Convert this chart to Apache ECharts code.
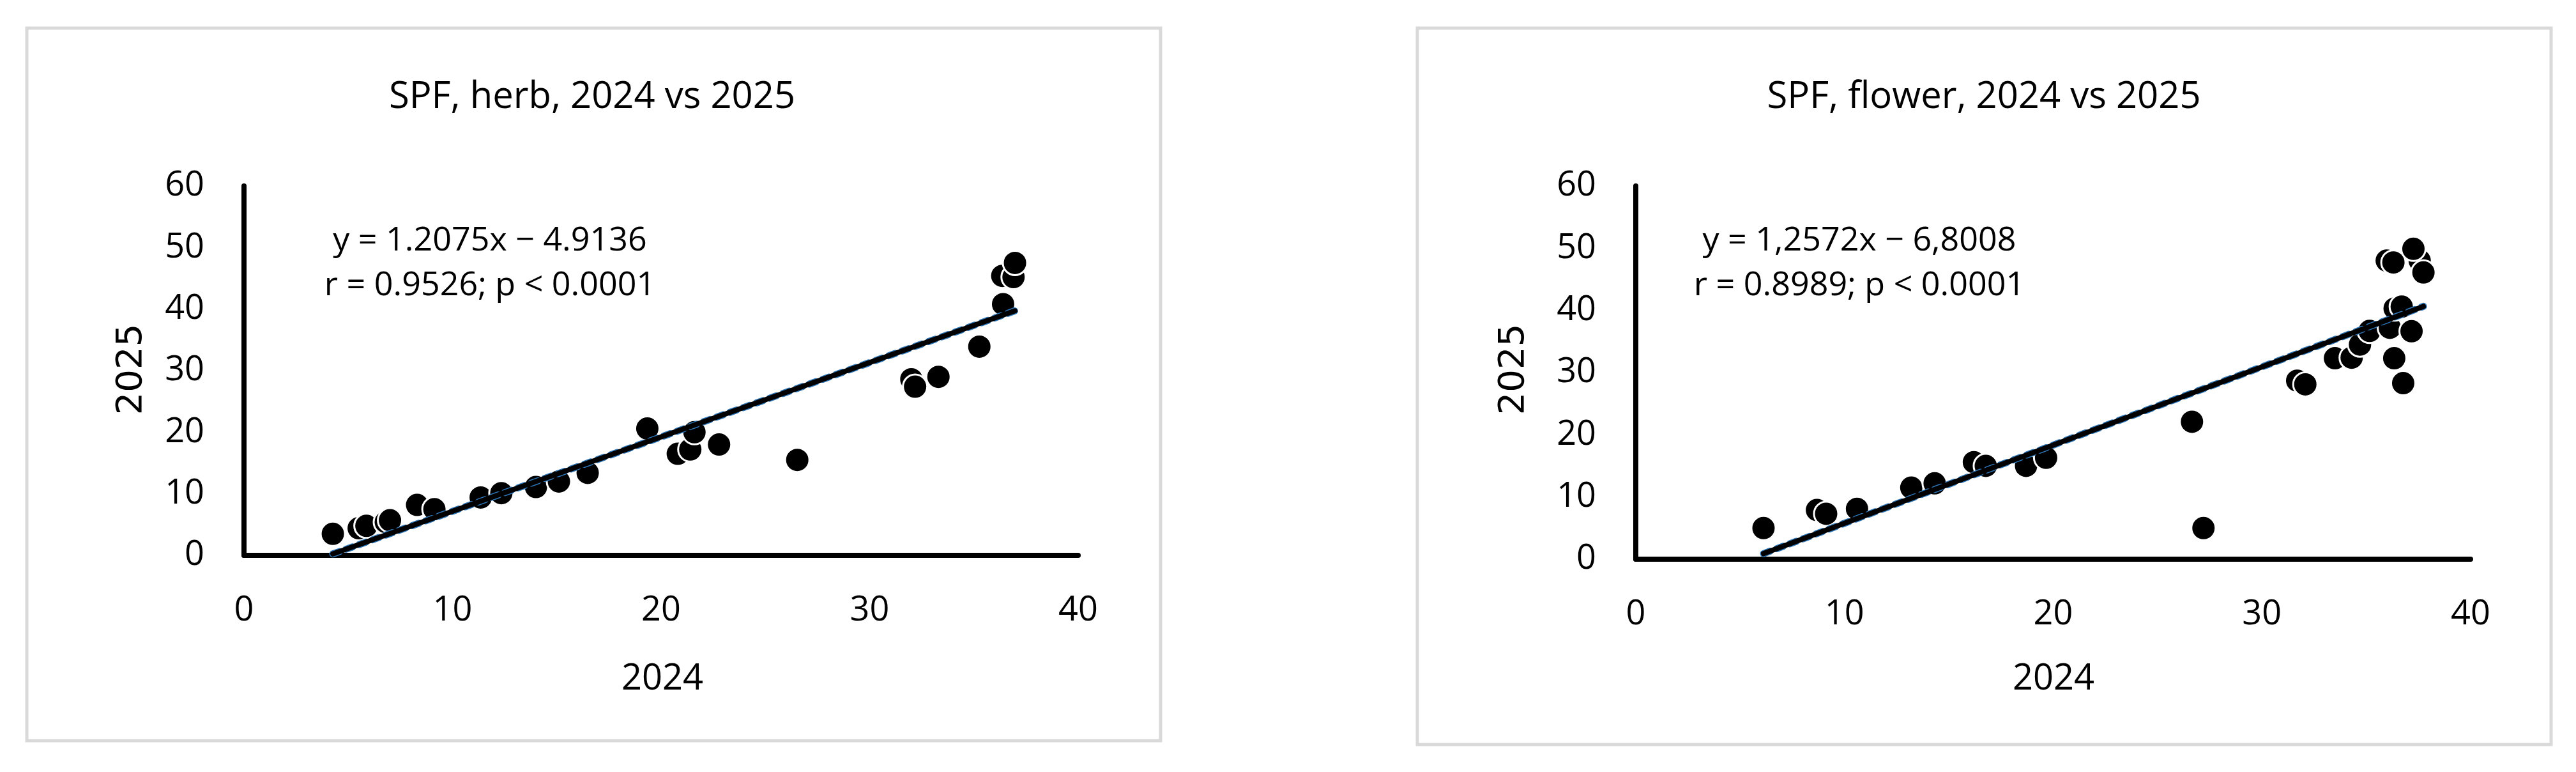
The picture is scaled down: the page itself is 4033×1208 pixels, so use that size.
<!DOCTYPE html>
<html>
<head>
<meta charset="utf-8">
<script src="https://cdn.jsdelivr.net/npm/echarts@6/dist/echarts.min.js"></script>
<style>
html,body{margin:0;padding:0;background:#fff;}
#c{width:4033px;height:1208px;}
</style>
</head>
<body>
<div id="c"></div>
<script>
// ---- Data ----
const herbTitle = 'SPF, herb, 2024 vs 2025';
const flowerTitle = 'SPF, flower, 2024 vs 2025';
const herbEq = 'y = 1.2075x \u2212 4.9136';
const herbStat = 'r = 0.9526; p < 0.0001';
const flowerEq = 'y = 1,2572x \u2212 6,8008';
const flowerStat = 'r = 0.8989; p < 0.0001';
const herbSlope = 1.2075, herbIntercept = -4.9136;
const flowerSlope = 1.2572, flowerIntercept = -6.8008;
const xTicks = [0, 10, 20, 30, 40];
const yTicks = [0, 10, 20, 30, 40, 50, 60];
const xName = '2024';
const yName = '2025';

const herb2024 = [4.26, 5.5, 5.87, 6.8, 7.0, 8.3, 9.13, 11.35, 12.34, 14.0, 15.1, 16.48, 19.34, 20.8, 21.4, 21.6, 22.78, 26.53, 32.0, 32.18, 33.3, 35.26, 36.4, 36.36, 36.9, 36.97];
const herb2025 = [3.5, 4.4, 4.8, 5.4, 5.7, 8.2, 7.5, 9.4, 10.1, 11.1, 12.0, 13.4, 20.6, 16.5, 17.2, 20.0, 18.0, 15.5, 28.6, 27.4, 29.0, 33.9, 40.8, 45.4, 45.2, 47.5];

const flower2024 = [6.12, 8.68, 9.12, 10.6, 13.2, 14.32, 16.2, 16.77, 18.7, 19.66, 26.65, 27.2, 31.69, 32.08, 33.5, 34.3, 34.7, 35.16, 36.13, 37.17, 36.36, 36.7, 36.34, 36.77, 35.98, 36.3, 37.56, 37.26, 37.74];
const flower2025 = [5.0, 7.9, 7.3, 8.1, 11.5, 12.2, 15.6, 15.0, 15.0, 16.3, 22.1, 5.0, 28.7, 28.1, 32.3, 32.4, 34.5, 36.7, 37.2, 36.65, 40.3, 40.6, 32.3, 28.3, 48.0, 47.7, 48.0, 49.9, 46.1];

// ---- Build chart ----
const FONT = "'Liberation Sans Narrow', 'Open Sans', sans-serif";
const pts = (xs, ys) => xs.map((x, i) => [x, ys[i]]);
const trend = (xs, m, b) => {
  const lo = Math.min(...xs), hi = Math.max(...xs);
  return [[lo, m * lo + b], [hi, m * hi + b]];
};

const panels = [
  {grid: {left: 382, top: 291, width: 1306, height: 578}, box: [42, 44, 1775, 1115],
   title: herbTitle, eq: herbEq, stat: herbStat, titleX: 927, eqX: 767, yNameX: 206, xNameX: 1037,
   data: pts(herb2024, herb2025), line: trend(herb2024, herbSlope, herbIntercept)},
  {grid: {left: 2561, top: 291, width: 1307, height: 584}, box: [2219, 44, 1775, 1121],
   title: flowerTitle, eq: flowerEq, stat: flowerStat, titleX: 3106, eqX: 2911, yNameX: 2370, xNameX: 3215,
   data: pts(flower2024, flower2025), line: trend(flower2024, flowerSlope, flowerIntercept)}
];

const grids = [], xAxes = [], yAxes = [], series = [], graphics = [];
panels.forEach((p, i) => {
  grids.push(p.grid);
  xAxes.push({
    gridIndex: i, type: 'value', min: xTicks[0], max: xTicks[xTicks.length - 1],
    interval: xTicks[1] - xTicks[0],
    axisLine: {show: true, onZero: false, lineStyle: {color: '#000', width: 8}},
    axisTick: {show: false}, splitLine: {show: false},
    axisLabel: {fontFamily: FONT, fontSize: 54, color: '#000', margin: 60}
  });
  yAxes.push({
    gridIndex: i, type: 'value', min: yTicks[0], max: yTicks[yTicks.length - 1],
    interval: yTicks[1] - yTicks[0],
    axisLine: {show: true, onZero: false, lineStyle: {color: '#000', width: 8}},
    axisTick: {show: false}, splitLine: {show: false},
    axisLabel: {fontFamily: FONT, fontSize: 54, color: '#000', margin: 62}
  });
  series.push({
    type: 'scatter', xAxisIndex: i, yAxisIndex: i, data: p.data,
    symbol: 'circle', symbolSize: 38, z: 2,
    itemStyle: {color: '#000', borderColor: '#fff', borderWidth: 3, opacity: 1},
    emphasis: {disabled: true}
  });
  series.push({
    type: 'line', xAxisIndex: i, yAxisIndex: i, data: p.line, symbol: 'none', z: 3,
    lineStyle: {color: '#2E75B6', width: 11, type: 'dotted', cap: 'round'}, silent: true
  });
  series.push({
    type: 'line', xAxisIndex: i, yAxisIndex: i, data: p.line, symbol: 'none', z: 4,
    lineStyle: {color: '#000', width: 8, cap: 'round'}, silent: true
  });
  graphics.push({type: 'rect', shape: {x: p.box[0], y: p.box[1], width: p.box[2], height: p.box[3]},
    style: {fill: 'none', stroke: '#d9d9d9', lineWidth: 5}, z: 0});
  graphics.push({type: 'text', x: p.titleX, y: 152,
    style: {text: p.title, font: '58px ' + FONT, fill: '#000', align: 'center', verticalAlign: 'middle'}, z: 10});
  graphics.push({type: 'text', x: p.eqX, y: 377,
    style: {text: p.eq, font: '52px ' + FONT, fill: '#000', align: 'center', verticalAlign: 'middle'}, z: 10});
  graphics.push({type: 'text', x: p.eqX, y: 447,
    style: {text: p.stat, font: '52px ' + FONT, fill: '#000', align: 'center', verticalAlign: 'middle'}, z: 10});
  graphics.push({type: 'text', x: p.xNameX, y: 1063,
    style: {text: xName, font: '56px ' + FONT, fill: '#000', align: 'center', verticalAlign: 'middle'}, z: 10});
  graphics.push({type: 'text', x: p.yNameX, y: 578, rotation: Math.PI / 2,
    style: {text: yName, font: "56px 'DejaVu Sans', sans-serif", fill: '#000', align: 'center', verticalAlign: 'middle'}, z: 10});
});

const chart = echarts.init(document.getElementById('c'), null, {renderer: 'canvas'});
chart.setOption({
  backgroundColor: '#fff',
  animation: false,
  grid: grids, xAxis: xAxes, yAxis: yAxes, series: series,
  graphic: graphics
});
</script>
</body>
</html>
